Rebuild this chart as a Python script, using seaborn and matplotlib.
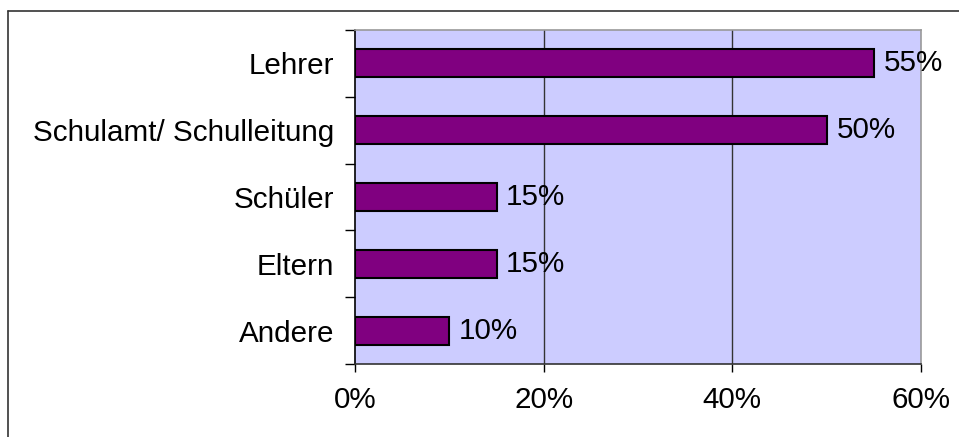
import matplotlib
matplotlib.use("Agg")
import matplotlib.pyplot as plt
from matplotlib.lines import Line2D
from matplotlib.ticker import FuncFormatter
import seaborn as sns
import pandas as pd

# Werte aus der Grafik
kategorien = ["Lehrer", "Schulamt/ Schulleitung", "Schüler", "Eltern", "Andere"]
anteile = [55, 50, 15, 15, 10]
x_ticks = [0, 20, 40, 60]

df = pd.DataFrame({"Kategorie": kategorien, "Anteil": anteile})

sns.set_style("white")
plt.rcParams["font.family"] = ["Liberation Sans", "DejaVu Sans"]
fs = 21.3

fig = plt.figure(figsize=(9.59, 4.37), dpi=100)
ax = fig.add_axes([355 / 959, 1 - 364 / 437, (921 - 355) / 959, (364 - 30) / 437])
ax.set_facecolor("#CCCCFF")

sns.barplot(data=df, x="Anteil", y="Kategorie", orient="h", color="#800080",
            edgecolor="black", linewidth=1.5, width=0.42, saturation=1, ax=ax)

for b in ax.patches:
    b.set_facecolor("#800080")

ax.bar_label(ax.containers[0], labels=[f"{v}%" for v in anteile],
             padding=7, fontsize=fs, color="black")

ax.set_xlim(0, 60)
ax.set_ylim(len(kategorien) - 0.5, -0.5)
ax.set_xticks(x_ticks)
ax.xaxis.set_major_formatter(FuncFormatter(lambda v, p: f"{v:.0f}%"))
ax.set_yticks([i - 0.5 for i in range(len(kategorien) + 1)], minor=False)
ax.set_yticklabels([])
ax.set_yticks(range(len(kategorien)), minor=True)
ax.set_yticklabels(kategorien, minor=True)
ax.tick_params(axis="y", which="major", left=True, length=7.5, width=1, color="black")
ax.tick_params(axis="y", which="minor", left=False, length=0, pad=15, labelsize=fs,
               labelcolor="black")
ax.tick_params(axis="x", bottom=True, length=6, width=1, color="black", pad=10, labelsize=fs,
               labelcolor="black")

ax.set_xlabel("")
ax.set_ylabel("")
ax.grid(False)
for xv in x_ticks[1:-1]:
    ax.axvline(xv, color="#333333", linewidth=1, zorder=0.5)

ax.spines["left"].set_color("black")
ax.spines["bottom"].set_color("#333333")
ax.spines["right"].set_color("#999999")
ax.spines["top"].set_color("#999999")
for s in ax.spines.values():
    s.set_linewidth(1.2)
ax.set_axisbelow(True)

# Rahmen um das Diagramm
fig.add_artist(Line2D([8 / 959, 8 / 959], [0, 1 - 11 / 437], transform=fig.transFigure,
                      color="#333333", linewidth=1.2))
fig.add_artist(Line2D([8 / 959, 1], [1 - 11 / 437, 1 - 11 / 437], transform=fig.transFigure,
                      color="#333333", linewidth=1.2))

fig.savefig("out.png", dpi=100)
